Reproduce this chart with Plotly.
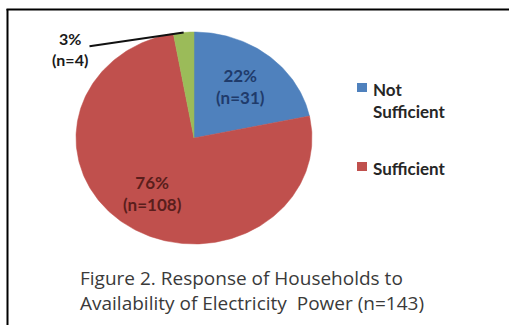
import math
import plotly.graph_objects as go

# Household responses (n=143)
categories = ["Not Sufficient", "Sufficient", "No Response"]
counts = [31, 108, 4]
colors = ["#4F81BD", "#C0504D", "#9BBB59"]
label_colors = ["#1F3B6B", "#5A1E1C", "#1A1A1A"]
in_legend = [True, True, False]

W, H = 509, 325
cx, cy = 194, 138      # pie centre in pixels
rx, ry = 118, 106      # pie radii in pixels

total = sum(counts)


def px(x):
    return x / W


def py(y):
    return 1 - y / H


fig = go.Figure()

# wedges, clockwise from 12 o'clock
start = 0.0
mids = []
for name, n, col in zip(categories, counts, colors):
    span = n / total * 2 * math.pi
    steps = max(4, int(span / (2 * math.pi) * 360))
    xs, ys = [0.0], [0.0]
    for k in range(steps + 1):
        t = start + span * k / steps
        xs.append(math.sin(t))
        ys.append(math.cos(t))
    xs.append(0.0)
    ys.append(0.0)
    fig.add_trace(go.Scatter(x=xs, y=ys, fill="toself", fillcolor=col, mode="lines",
                             line=dict(color=col, width=0.5), name=name,
                             showlegend=False, hoverinfo="name"))
    mids.append(start + span / 2)
    start += span

# inside labels for the two large wedges
for i in range(2):
    pct = round(counts[i] / total * 100)
    r = 0.63
    fig.add_annotation(x=r * math.sin(mids[i]), y=r * math.cos(mids[i]),
                       text=f"{pct}%<br>(n={counts[i]})", showarrow=False,
                       font=dict(family="Lato", size=17, color=label_colors[i], weight="bold"))

# outside label with leader line for the small wedge
pct = round(counts[2] / total * 100)
fig.add_annotation(x=math.sin(mids[2]), y=math.cos(mids[2]),
                   ax=(70 - cx) / rx, ay=(cy - 49) / ry, axref="x", ayref="y",
                   text=f"{pct}%<br>(n={counts[2]})", showarrow=True, arrowhead=0,
                   arrowwidth=2, arrowcolor="#111111",
                   font=dict(family="Lato", size=16, color=label_colors[2], weight="bold"))

# legend
legend_rows = [(83, "Not<br>Sufficient"), (162, "Sufficient")]
for (top, text), col, show in zip(legend_rows, colors, in_legend):
    if not show:
        continue
    fig.add_shape(type="rect", xref="paper", yref="paper",
                  x0=px(357), x1=px(367), y0=py(top), y1=py(top + 9),
                  fillcolor=col, line=dict(width=0))
    fig.add_annotation(xref="paper", yref="paper", x=px(371), y=py(top - 6),
                       xanchor="left", yanchor="top", align="left", showarrow=False,
                       text=text,
                       font=dict(family="Lato", size=17, color="#262626", weight="bold"))

# caption
fig.add_annotation(xref="paper", yref="paper", x=px(78), y=py(263),
                   xanchor="left", yanchor="top", align="left", showarrow=False,
                   text="Figure 2. Response of Households to<br>Availability of Electricity  Power (n=143)",
                   font=dict(family="Open Sans", size=19, color="#3A3A3A"))

# frame
fig.add_shape(type="line", xref="paper", yref="paper", x0=px(7.5), x1=px(7.5),
              y0=0, y1=py(9), line=dict(color="black", width=2))
fig.add_shape(type="line", xref="paper", yref="paper", x0=px(6.5), x1=1,
              y0=py(9.5), y1=py(9.5), line=dict(color="black", width=2))

fig.update_xaxes(range=[-cx / rx, (W - cx) / rx], visible=False, fixedrange=True)
fig.update_yaxes(range=[-(H - cy) / ry, cy / ry], visible=False, fixedrange=True)
fig.update_layout(width=W, height=H, margin=dict(l=0, r=0, t=0, b=0),
                  paper_bgcolor="white", plot_bgcolor="white", showlegend=False)

fig.write_html("out.html")
